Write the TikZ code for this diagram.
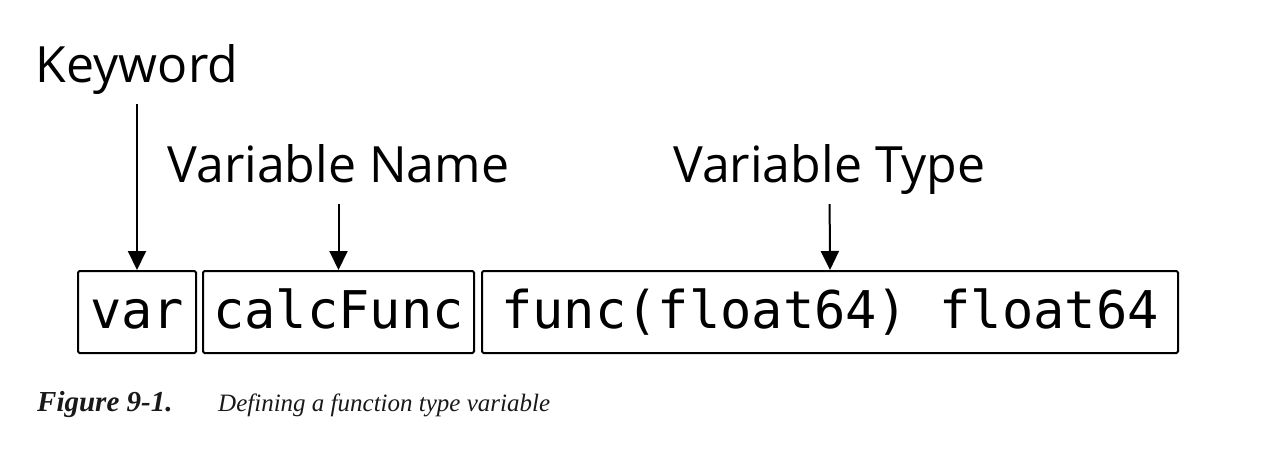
\documentclass[tikz,border=0pt]{standalone}
\usepackage{fontspec}
\setmainfont{Liberation Serif}
\setsansfont{Open Sans}
\setmonofont{DejaVu Sans Mono}
\usetikzlibrary{arrows.meta}
\tikzset{
    lbl/.style={font=\sffamily\fontsize{50}{56}\selectfont, inner sep=0pt, text depth=0pt, anchor=base},
    part/.style={draw, line width=2pt, rounded corners=1.5pt, minimum height=82pt, inner sep=0pt,
                 text height=40pt, text depth=8pt, font=\ttfamily\fontsize{52}{60}\selectfont},
    arr/.style={line width=2pt, -{Triangle[width=18pt,length=19pt]}, shorten <=22pt},
    figcap/.style={font=\fontsize{25}{30}\selectfont, inner sep=0pt, anchor=base west, text=black!90}
}
\begin{document}
\begin{tikzpicture}[x=1pt,y=-1pt]
    \useasboundingbox (0,0) rectangle (1280,458);

    % 标签
    \node[lbl] (kw) at (137,82) {Keyword};
    \node[lbl] (vname) at (338.5,182) {Variable Name};
    \node[lbl] (vtype) at (829.5,182) {Variable Type};

    % 声明的三部分
    \node[part, minimum width=118pt] (var) at (137,312) {var};
    \node[part, minimum width=271pt] (name) at (338.5,312) {calcFunc};
    \node[part, minimum width=696pt] (type) at (830,312) {func(float64) float64};

    % 箭头
    \draw[arr] (kw.south) -- (var.north);
    \draw[arr] (vname.south) -- (name.north);
    \draw[arr] (vtype.south) -- (type.north);

    % 图注
    \node[figcap, font=\fontsize{29}{32}\selectfont] (fig) at (37,411) {\bfseries\itshape Figure 9-1.};
    \node[figcap] (desc) at (218,411) {\itshape Defining a function type variable};
\end{tikzpicture}
\end{document}
